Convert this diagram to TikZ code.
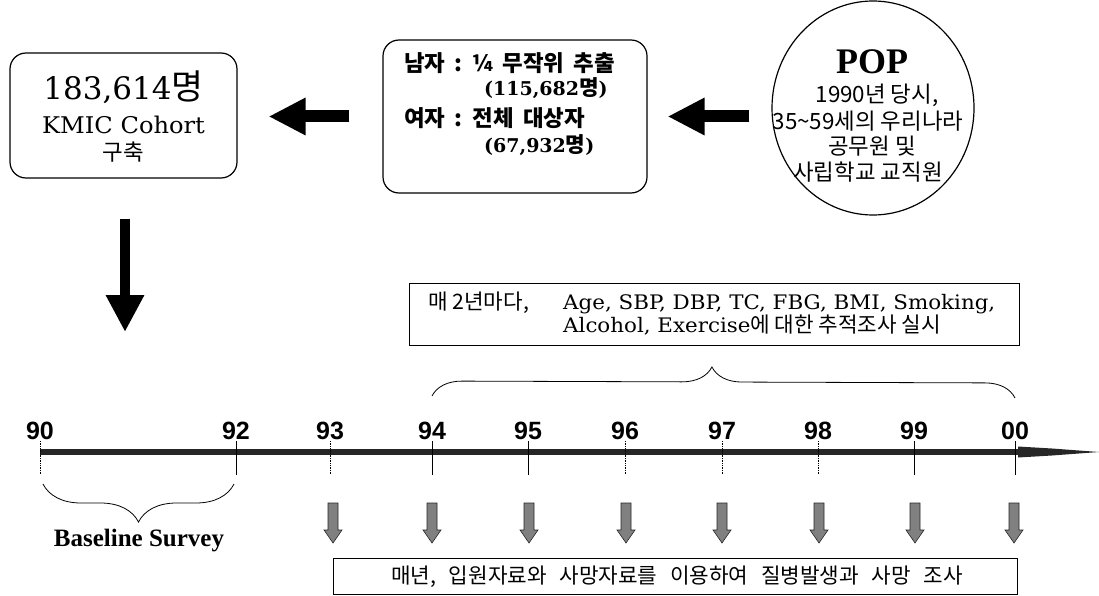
\documentclass[tikz,border=0pt]{standalone}
\usepackage{fontspec}
\setmainfont{Liberation Serif}
\newfontfamily\kr{Noto Sans CJK KR}[Scale=1.12]
\newfontfamily\dser{DejaVu Serif}
\newfontfamily\lsans{Liberation Sans}
\usetikzlibrary{arrows.meta,decorations.pathreplacing,calc,shapes.geometric}
\newcommand\fsz[1]{\fontsize{#1}{#1}\selectfont}
\newcommand\hstretch[2]{\scalebox{#1}[1]{#2}}
\begin{document}
\begin{tikzpicture}[x=1pt,y=-1pt,
  rbox/.style={draw, line width=1.2pt, rounded corners=16pt, inner sep=0pt},
  sqbox/.style={draw, line width=0.8pt, inner sep=0pt},
  txt/.style={inner sep=0pt},
  bigarrow/.style={line width=12pt, -{Triangle[length=37pt,width=35pt]}},
  downarrow/.style={line width=10pt, -{Triangle[length=37pt,width=36pt]}},
  yearlbl/.style={inner sep=0pt, font=\lsans\bfseries\fsz{25}},
  smallarrow/.style={fill=black!50, draw=black!85, line width=0.6pt},
  bracestyle/.style={decorate, line width=0.8pt},
  timeline/.style={line width=6pt, draw=black!85},
  timehead/.style={fill=black!85}
]
\useasboundingbox (0,0) rectangle (1099,596);

% box 1
\node[rbox, minimum width=227pt, minimum height=125pt] (b1) at (123.5,115.5) {};
\node[txt] (b1a) at (123.5,87) {\dser\fsz{31}183,614{\kr 명}};
\node[txt] (b1b) at (123.5,125) {\dser\fsz{23}\hstretch{1.05}{KMIC Cohort}};
\node[txt] (b1c) at (123.5,152) {\kr\fsz{20}구축};

% box 2
\node[rbox, minimum width=264pt, minimum height=153pt] (b2) at (515,116.5) {};
\node[txt, anchor=west] (m1) at (404,63) {\kr\bfseries\fsz{20}\spaceskip=0.4em\relax 남자 : ¼ 무작위 추출};
\node[txt, anchor=west] (m2) at (484,88) {\dser\bfseries\fsz{19}(115,682{\kr 명})};
\node[txt, anchor=west] (w1) at (404,118) {\kr\bfseries\fsz{20}\spaceskip=0.4em\relax 여자 : 전체 대상자};
\node[txt, anchor=west] (w2) at (484,145) {\dser\bfseries\fsz{19}(67,932{\kr 명})};

% POP circle
\node[draw, ellipse, line width=1.2pt, minimum width=202pt, minimum height=214pt, inner sep=0pt] (pop) at (873,108) {};
\node[txt] (p0) at (872,62) {\bfseries\fsz{36}POP};
\node[txt] (p1) at (877,95) {\kr\fsz{20}1990년 당시,};
\node[txt] (p2) at (868,121) {\kr\fsz{20}35\textasciitilde 59세의 우리나라};
\node[txt] (p3) at (872,146) {\kr\fsz{20}공무원 및};
\node[txt] (p4) at (868,172) {\kr\fsz{20}사립학교 교직원};

% big arrows
\draw[bigarrow, shorten <=33pt, shorten >=31pt] (b2.west) -- (b2.west -| b1.east);
\draw[bigarrow, shorten <=22pt, shorten >=20pt] (b2.east -| pop.west) -- (b2.east);
\coordinate (dn) at (125,332);
\draw[downarrow, shorten <=40pt] (b1.south -| dn) -- (dn);

% follow-up box
\node[sqbox, minimum width=610pt, minimum height=62pt] (fb) at (714,314) {};
\node[txt, anchor=base west] (f1a) at (428,309) {\kr\fsz{19}매 2년마다,};
\node[txt, anchor=base west] (f1b) at (563,309) {\dser\fsz{20}\hstretch{1.07}{Age, SBP, DBP, TC, FBG, BMI, Smoking,}};
\node[txt, anchor=base west] (f2) at (563,332) {\dser\fsz{20}\hstretch{1.07}{Alcohol, Exercise}{\kr\fsz{19}에 대한 추적조사 실시}};

% upper brace
\coordinate (br1) at (432,396);
\coordinate (br2) at (1015,398);
\draw[bracestyle, decoration={brace, amplitude=30pt, aspect=0.48}] (br1) -- (br2);

% timeline
\coordinate (t0) at (40,452);
\coordinate (th) at (1022,452);
\coordinate (tend) at (1099,452);
\draw[timeline] (t0) -- (th);
\fill[timehead] ($(th)+(-4,-5.5)$) -- ($(th)+(30,-3.5)$) -- (tend) -- ($(th)+(30,3.5)$) -- ($(th)+(-4,5.5)$) -- cycle;

\foreach \x/\l/\s in {40/90/densely dotted, 236/92/solid, 330/93/densely dotted, 432/94/solid, 528/95/solid, 625/96/densely dotted, 722/97/densely dotted, 818/98/densely dotted, 914/99/solid, 1015/00/solid} {
  \node[yearlbl] (y\l) at (\x,431) {\l};
  \draw[\s, line width=0.7pt] (\x,441) -- (\x,475);
}

% lower brace
\coordinate (lb1) at (234,484);
\coordinate (lb2) at (43,484);
\draw[bracestyle, decoration={brace, amplitude=38pt}] (lb1) -- (lb2);
\node[txt] (bs) at (139,541) {\bfseries\fsz{25}Baseline Survey};

% small arrows
\foreach \x in {333,432,529,626,722,819,915,1014} {
  \draw[smallarrow] (\x-5,503) -- (\x+5,503) -- (\x+5,530) -- (\x+9,530) -- (\x,543) -- (\x-9,530) -- (\x-5,530) -- cycle;
}

% event box
\node[sqbox, minimum width=684pt, minimum height=36pt] (eb) at (675,576) {};
\node[txt] (et) at (677,577) {\kr\fsz{19}\spaceskip=0.6em\relax 매년, 입원자료와 사망자료를 이용하여 질병발생과 사망 조사};
\end{tikzpicture}
\end{document}
